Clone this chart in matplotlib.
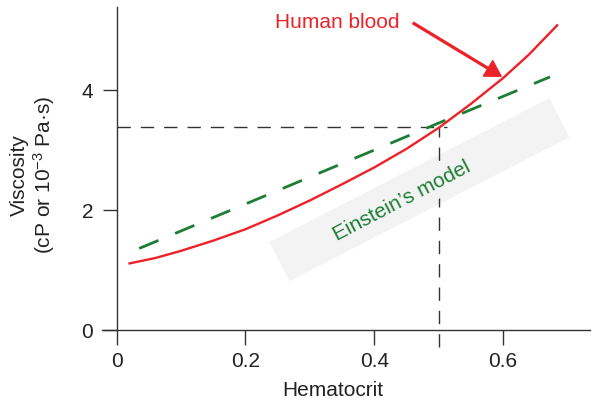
import matplotlib
matplotlib.use("Agg")
import matplotlib.pyplot as plt
from matplotlib.patches import Rectangle
from matplotlib.transforms import Affine2D, ScaledTranslation

plt.rcParams['font.family'] = ['Liberation Sans', 'DejaVu Sans']
plt.rcParams['mathtext.fontset'] = 'custom'
plt.rcParams['mathtext.rm'] = 'Liberation Sans'
plt.rcParams['mathtext.it'] = 'Liberation Sans'
plt.rcParams['lines.scale_dashes'] = False

# Data
blood_hct = [0.02, 0.06, 0.10, 0.15, 0.20, 0.25, 0.30, 0.35, 0.40, 0.45, 0.50, 0.55, 0.60, 0.64, 0.684]
blood_visc = [1.11, 1.20, 1.32, 1.49, 1.68, 1.91, 2.16, 2.43, 2.71, 3.02, 3.37, 3.77, 4.20, 4.59, 5.08]
einstein_hct = [0.035, 0.2, 0.5, 0.673]
einstein_visc = [1.36, 2.10, 3.45, 4.22]
normal_hct = 0.5
normal_visc = 3.38
x_ticks = [0, 0.2, 0.4, 0.6]
x_tick_labels = ['0', '0.2', '0.4', '0.6']
y_ticks = [0, 2, 4]
y_tick_labels = ['0', '2', '4']

RED = '#ec2228'
GREEN = '#1d7d35'
AX = '#333333'
BAND = '#f3f3f3'

fig = plt.figure(figsize=(5.96, 4.05), dpi=100)
ax = fig.add_axes([102/596, 75/405, 488/596, 322.7/405])
ax.set_xlim(-0.0228, 0.735)
ax.set_ylim(0, 5.38)

for s in ['top', 'right']:
    ax.spines[s].set_visible(False)
ax.spines['left'].set_position(('data', 0))
for s in ['left', 'bottom']:
    ax.spines[s].set_color(AX)
    ax.spines[s].set_linewidth(1.0)

ax.set_xticks(x_ticks, x_tick_labels)
ax.set_yticks(y_ticks, y_tick_labels)
ax.tick_params(axis='x', direction='out', length=10.5, width=1.0, color=AX,
               labelsize=15, pad=5, labelcolor='#222222')
ax.tick_params(axis='y', direction='out', length=10, width=1.0, color=AX,
               labelsize=15, pad=7, labelcolor='#222222')

# Background band for the Einstein label
cx, cy = 0.47, 2.34
band = Rectangle((-3.15/2, -0.44/2), 3.15, 0.44, facecolor=BAND, edgecolor='none',
                 transform=Affine2D().rotate_deg(27.2) + fig.dpi_scale_trans
                 + ScaledTranslation(cx, cy, ax.transData), zorder=0.5)
ax.add_patch(band)

# Reference dashed lines
ax.plot([0, 0.513], [normal_visc, normal_visc], color='#333333', lw=1.0,
        dashes=(9.6, 7.2), zorder=1)
ax.plot([normal_hct, normal_hct], [-0.28, normal_visc], color='#333333', lw=1.0,
        dashes=(9.6, 7.2), zorder=1, clip_on=False)

# Curves
ax.plot(einstein_hct, einstein_visc, color=GREEN, lw=2.0, dashes=(15, 13),
        solid_capstyle='butt', dash_capstyle='butt', zorder=2)
ax.plot(blood_hct, blood_visc, color=RED, lw=1.7, zorder=3)

# Labels
ax.text(0.443, 2.15, 'Einstein\u2019s model', color=GREEN, fontsize=15,
        rotation=27.5, rotation_mode='anchor', ha='center', va='center', zorder=4,
        bbox=dict(facecolor=BAND, edgecolor='none', pad=4))
ax.text(0.342, 5.13, 'Human blood', color=RED, fontsize=15, ha='center', va='center')
ax.annotate('', xy=(0.597, 4.23), xytext=(0.4605, 5.117),
            arrowprops=dict(color=RED, width=1.3, headwidth=13, headlength=11, shrink=0))

ax.set_xlabel('Hematocrit', fontsize=15, color='#222222')
ax.xaxis.set_label_coords(0.473, -0.186)
ax.xaxis.label.set_va('center')
ax.set_ylabel('Viscosity\n(cP or 10$^{-3}$ Pa\u00b7s)', fontsize=15, color='#222222',
              linespacing=1.1)
ax.yaxis.set_label_coords(-0.141, 0.48)
ax.yaxis.label.set_va('center')

fig.savefig('out.png', dpi=100)
